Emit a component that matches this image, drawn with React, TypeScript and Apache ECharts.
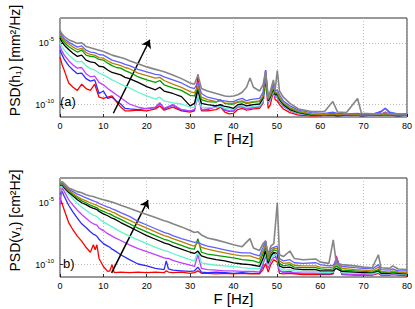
import React, { useEffect, useRef } from 'react';
import * as echarts from 'echarts';

// ---------- Panel (a): PSD(h1), values are log10 of PSD ----------
const freqA = [0, 0.5, 1,
  2, 3, 4, 5, 6, 7, 8, 9, 10, 11, 12, 13, 14, 15, 16,
  18, 20, 22, 23, 24, 26, 28, 30, 31,
  31.8, 32.6, 34, 36, 37, 38, 39, 40, 41, 42, 43,
  43.8, 44.6, 46, 46.8, 47.4, 48, 48.5, 49.2, 49.6, 50.1, 50.6, 51.5,
  53, 55, 58, 61, 62.9, 64, 66, 68.6, 69.5,
  72, 74, 75, 76, 78, 80];

const a_red = [-6.15, -6.8, -7.25,
  -8.25, -8.6, -8.85, -8.35, -8.7, -8.85, -8.35, -9.4, -9.5, -9.4, -9.3, -9.75, -10.2, -10.5, -10.5,
  -10.45, -10.5, -10.35, -10.1, -10.45, -10.2, -10.5, -10.6, -10.5,
  -7.55, -10.5, -10.5, -10.4, -10.2, -10.6, -10.75, -10.7, -10.4, -10.3, -10.45,
  -10.4, -10.35, -10.3, -9.9, -8.0, -10.3, -10.0, -8.9, -9.6, -9.7, -10.0, -10.35,
  -10.65, -10.85, -10.9, -10.9, -10.85, -10.9, -10.9, -10.85, -10.9,
  -10.9, -10.8, -10.6, -10.8, -10.9, -10.9];
const a_blue = [-5.6, -6.0, -6.35,
  -6.85, -7.2, -7.5, -7.45, -7.9, -8.1, -8.0, -9.1, -8.9, -9.5, -9.4, -9.7, -9.95, -10.3, -10.35,
  -10.4, -10.3, -10.25, -9.9, -10.35, -10.05, -10.45, -10.5, -10.45,
  -8.5, -10.4, -10.4, -10.1, -10.05, -10.45, -10.55, -10.5, -10.15, -10.1, -10.3,
  -10.25, -10.25, -10.15, -9.6, -7.2, -9.7, -9.5, -8.6, -9.3, -9.4, -9.75, -10.1,
  -10.45, -10.7, -10.8, -10.8, -10.7, -10.8, -10.8, -10.75, -10.8,
  -10.8, -10.55, -10.3, -10.65, -10.8, -10.85];
const a_magenta = [-5.3, -5.7, -6.0,
  -6.45, -6.8, -7.05, -7.0, -7.5, -7.75, -7.7, -8.2, -8.4, -8.7, -8.95, -9.2, -9.45, -9.7, -9.95,
  -10.2, -10.35, -10.2, -9.85, -10.3, -10.0, -10.4, -10.5, -10.4,
  -9.4, -10.4, -10.35, -10.2, -10.0, -10.4, -10.5, -10.55, -10.2, -10.2, -10.35,
  -10.3, -10.25, -10.2, -9.8, -8.3, -9.9, -9.6, -8.9, -9.4, -9.35, -9.8, -10.15,
  -10.5, -10.75, -10.85, -10.9, -10.85, -10.9, -10.9, -10.85, -10.9,
  -10.9, -10.8, -10.65, -10.85, -10.9, -10.9];
const a_cyan = [-5.0, -5.35, -5.6,
  -6.0, -6.3, -6.55, -6.5, -6.85, -7.1, -7.2, -7.45, -7.6, -7.8, -8.0, -8.15, -8.35, -8.5, -8.65,
  -9.0, -9.3, -9.55, -9.4, -9.7, -9.85, -9.95, -10.2, -10.25,
  -9.3, -10.2, -10.25, -10.2, -10.15, -10.3, -10.35, -10.4, -10.1, -10.1, -10.25,
  -10.2, -10.15, -10.1, -9.7, -8.2, -9.8, -9.5, -8.8, -9.3, -9.3, -9.7, -10.05,
  -10.45, -10.7, -10.85, -10.9, -10.85, -10.9, -10.9, -10.85, -10.9,
  -10.9, -10.85, -10.8, -10.85, -10.9, -10.9];
const a_black = [-4.6, -4.95, -5.2,
  -5.55, -5.85, -6.1, -6.0, -6.4, -6.55, -6.6, -6.9, -6.95, -7.2, -7.4, -7.5, -7.6, -7.8, -7.9,
  -8.2, -8.55, -8.8, -8.6, -8.9, -9.1, -9.35, -10.1, -9.9,
  -8.8, -9.9, -10.0, -10.1, -10.0, -10.15, -10.2, -10.3, -10.0, -9.95, -10.1,
  -10.05, -10.0, -9.95, -9.5, -8.0, -9.7, -9.4, -8.7, -9.2, -9.2, -9.6, -10.0,
  -10.4, -10.65, -10.85, -10.85, -10.85, -10.9, -10.85, -10.85, -10.9,
  -10.85, -10.85, -10.8, -10.85, -10.9, -10.85];
const a_green = [-4.45, -4.75, -5.0,
  -5.3, -5.55, -5.75, -5.6, -6.0, -6.1, -6.15, -6.35, -6.4, -6.65, -6.85, -7.0, -7.05, -7.25, -7.4,
  -7.75, -8.0, -8.2, -8.05, -8.4, -8.65, -8.85, -9.25, -9.3,
  -8.6, -9.6, -9.75, -9.8, -9.6, -9.9, -9.95, -9.95, -9.8, -9.75, -9.9,
  -9.85, -9.8, -9.75, -9.4, -7.9, -9.6, -9.3, -8.6, -9.1, -9.1, -9.5, -9.9,
  -10.3, -10.6, -10.8, -10.85, -10.8, -10.85, -10.8, -10.85, -10.85,
  -10.85, -10.8, -10.8, -10.85, -10.8, -10.85];
const a_orange = [-4.3, -4.6, -4.85,
  -5.1, -5.35, -5.55, -5.45, -5.8, -5.95, -6.0, -6.2, -6.25, -6.45, -6.65, -6.75, -6.85, -7.0, -7.1,
  -7.45, -7.65, -7.85, -7.8, -8.05, -8.35, -8.6, -8.95, -9.05,
  -8.5, -9.4, -9.6, -9.75, -9.7, -9.85, -9.9, -9.9, -9.75, -9.7, -9.85,
  -9.8, -9.75, -9.7, -9.3, -7.7, -9.5, -9.2, -8.5, -9.0, -9.0, -9.4, -9.85,
  -10.25, -10.55, -10.75, -10.8, -10.75, -10.8, -10.8, -10.8, -10.85,
  -10.8, -10.8, -10.7, -10.8, -10.85, -10.85];
const a_violet = [-4.15, -4.45, -4.7,
  -4.95, -5.15, -5.35, -5.25, -5.6, -5.75, -5.8, -5.95, -6.0, -6.2, -6.4, -6.5, -6.6, -6.75, -6.85,
  -7.15, -7.35, -7.55, -7.6, -7.75, -8.0, -8.25, -8.6, -8.7,
  -8.2, -9.1, -9.4, -9.55, -9.65, -9.7, -9.75, -9.75, -9.6, -9.5, -9.7,
  -9.6, -9.55, -9.5, -9.0, -7.25, -9.3, -9.0, -8.35, -8.9, -8.8, -9.2, -9.7,
  -10.1, -10.45, -10.65, -10.7, -10.6, -10.7, -10.75, -10.7, -10.75,
  -10.75, -10.6, -10.3, -10.6, -10.75, -10.8];
const a_gray = [-4.0, -4.3, -4.5,
  -4.75, -4.9, -5.05, -5.0, -5.3, -5.4, -5.5, -5.6, -5.7, -5.85, -6.0, -6.1, -6.2, -6.3, -6.45,
  -6.7, -6.95, -7.15, -7.25, -7.35, -7.6, -7.9, -8.25, -8.35,
  -7.6, -8.7, -8.9, -9.1, -9.2, -9.3, -9.35, -9.3, -9.2, -9.0, -8.6,
  -7.85, -8.6, -8.9, -8.4, -7.3, -9.5, -8.9, -8.0, -8.8, -7.25, -8.9, -9.4,
  -9.9, -10.35, -10.55, -10.55, -9.75, -10.6, -10.65, -9.5, -10.7,
  -10.75, -10.75, -10.7, -10.75, -10.75, -10.75];

// ---------- Panel (b): PSD(v1), values are log10 of PSD ----------
const freqB = [0, 0.5, 1,
  2, 3, 4, 5, 6, 7, 7.7, 8.1, 8.5, 9, 10, 11, 11.5, 12, 12.5,
  14, 16, 18, 20, 22, 24, 24.5, 25, 26, 28, 30, 31,
  31.8, 32.6, 34, 36, 38, 40, 42, 43.8, 44.6,
  46, 46.8, 47.4, 48, 48.6, 49.3, 50.1, 50.6, 51.5, 53,
  54, 56, 59, 60, 62, 63, 63.7, 65,
  68, 70, 72, 73.4, 74, 76, 76.7, 78, 80];

const b_red = [-4.6, -5.1, -5.6,
  -6.6, -7.2, -7.7, -8.1, -8.6, -9.0, -8.4, -8.8, -8.4, -9.5, -10.15, -10.55, -10.5, -10.0, -10.65,
  -10.6, -10.65, -10.6, -10.65, -10.6, -10.65, -10.5, -10.6, -10.65, -10.6, -10.7, -10.65,
  -10.5, -10.7, -10.7, -10.75, -10.7, -10.75, -10.7, -10.75, -10.75,
  -10.75, -10.4, -9.9, -10.6, -10.0, -9.6, -9.8, -10.7, -10.75, -10.7,
  -10.75, -10.8, -10.8, -10.8, -10.8, -10.75, -9.3, -10.8,
  -10.85, -10.85, -10.85, -10.7, -10.85, -10.85, -10.8, -10.85, -10.9];
const b_blue = [-4.3, -4.1, -4.5,
  -5.2, -5.75, -6.25, -6.7, -7.0, -7.35, -7.55, -7.6, -7.7, -7.95, -8.3, -8.5, -8.6, -8.75, -8.85,
  -9.2, -9.6, -9.95, -10.1, -10.3, -10.4, -9.7, -10.35, -10.45, -10.5, -10.55, -10.5,
  -10.2, -10.6, -10.65, -10.6, -10.65, -10.7, -10.65, -10.7, -10.7,
  -10.7, -10.1, -8.1, -10.2, -9.4, -9.0, -9.6, -10.5, -10.6, -10.55,
  -10.7, -10.7, -10.7, -10.75, -10.75, -10.7, -9.5, -10.75,
  -10.8, -10.8, -10.8, -10.6, -10.8, -10.8, -10.7, -10.8, -10.85];
const b_magenta = [-5.2, -3.75, -4.1,
  -4.75, -5.2, -5.6, -5.95, -6.25, -6.55, -6.7, -6.75, -6.8, -7.05, -7.25, -7.5, -7.6, -7.7, -7.8,
  -8.05, -8.4, -8.7, -8.95, -9.2, -9.45, -9.5, -9.5, -9.65, -9.85, -10.05, -10.15,
  -9.2, -10.3, -10.4, -10.45, -10.5, -10.5, -10.55, -10.55, -10.55,
  -10.6, -10.0, -9.3, -10.3, -9.7, -9.4, -9.5, -10.5, -10.6, -10.6,
  -10.65, -10.7, -10.7, -10.7, -10.7, -10.6, -9.35, -10.75,
  -10.8, -10.8, -10.8, -10.65, -10.8, -10.8, -10.75, -10.8, -10.85];
const b_cyan = [-3.7, -3.65, -3.9,
  -4.3, -4.7, -5.05, -5.35, -5.6, -5.85, -6.0, -6.05, -6.1, -6.3, -6.55, -6.75, -6.85, -6.95, -7.05,
  -7.35, -7.7, -8.0, -8.3, -8.6, -8.85, -8.9, -8.95, -9.1, -9.35, -9.6, -9.7,
  -8.9, -9.85, -9.95, -10.05, -10.1, -10.15, -10.25, -10.3, -10.3,
  -10.35, -9.7, -9.1, -10.1, -9.5, -9.2, -9.3, -10.3, -10.45, -10.4,
  -10.5, -10.55, -10.55, -10.6, -10.65, -10.6, -9.9, -10.65,
  -10.7, -10.7, -10.75, -10.6, -10.75, -10.75, -10.7, -10.75, -10.8];
const b_black = [-3.6, -3.55, -3.8,
  -4.15, -4.45, -4.75, -5.0, -5.15, -5.35, -5.45, -5.5, -5.55, -5.7, -5.9, -6.05, -6.15, -6.25, -6.3,
  -6.6, -6.95, -7.3, -7.65, -7.95, -8.25, -8.3, -8.35, -8.5, -8.75, -9.0, -9.1,
  -8.9, -9.3, -9.45, -9.6, -9.7, -9.85, -9.95, -10.0, -10.05,
  -10.15, -9.5, -8.9, -9.9, -9.3, -9.0, -9.1, -10.1, -10.25, -10.2,
  -10.35, -10.4, -10.4, -10.5, -10.5, -10.5, -10.3, -10.55,
  -10.6, -10.65, -10.65, -10.5, -10.7, -10.7, -10.65, -10.7, -10.75];
const b_green = [-3.55, -3.5, -3.7,
  -4.05, -4.35, -4.6, -4.85, -5.0, -5.2, -5.3, -5.35, -5.4, -5.55, -5.7, -5.85, -5.9, -6.0, -6.1,
  -6.35, -6.7, -7.05, -7.35, -7.65, -7.95, -8.0, -8.05, -8.2, -8.45, -8.7, -8.75,
  -7.9, -9.0, -9.15, -9.25, -9.35, -9.45, -9.6, -9.65, -9.7,
  -9.85, -9.1, -8.6, -9.7, -9.1, -8.8, -8.9, -9.9, -10.1, -10.0,
  -10.2, -10.25, -10.25, -10.35, -10.4, -10.35, -10.1, -10.45,
  -10.5, -10.55, -10.6, -10.4, -10.6, -10.65, -10.6, -10.65, -10.7];
const b_orange = [-3.5, -3.45, -3.65,
  -4.0, -4.25, -4.5, -4.7, -4.85, -5.0, -5.1, -5.15, -5.2, -5.3, -5.45, -5.6, -5.65, -5.75, -5.8,
  -6.1, -6.4, -6.75, -7.05, -7.35, -7.65, -7.7, -7.75, -7.9, -8.15, -8.4, -8.5,
  -8.2, -8.6, -8.75, -8.9, -9.05, -9.2, -9.3, -9.3, -9.4,
  -9.55, -8.9, -8.4, -9.5, -8.9, -8.7, -8.7, -9.7, -9.9, -9.85,
  -10.05, -10.1, -10.1, -10.2, -10.25, -10.2, -9.9, -10.3,
  -10.4, -10.45, -10.5, -10.2, -10.55, -10.6, -10.5, -10.6, -10.65];
const b_violet = [-3.45, -3.4, -3.6,
  -3.9, -4.1, -4.3, -4.45, -4.6, -4.75, -4.85, -4.9, -4.95, -5.05, -5.2, -5.35, -5.4, -5.5, -5.55,
  -5.8, -6.1, -6.5, -6.8, -7.1, -7.4, -7.45, -7.5, -7.65, -7.9, -8.1, -8.2,
  -8.15, -8.35, -8.5, -8.65, -8.8, -8.95, -9.05, -9.05, -9.15,
  -9.3, -8.6, -8.05, -9.3, -8.7, -8.6, -8.5, -9.5, -9.7, -9.6,
  -9.85, -9.9, -9.85, -10.0, -10.1, -10.05, -9.7, -10.15,
  -10.25, -10.3, -10.35, -10.0, -10.4, -10.45, -10.35, -10.5, -10.5];
const b_gray = [-3.35, -3.3, -3.45,
  -3.8, -3.95, -4.1, -4.2, -4.35, -4.45, -4.5, -4.55, -4.6, -4.65, -4.75, -4.85, -4.9, -4.95, -5.0,
  -5.2, -5.45, -5.7, -5.95, -6.2, -6.45, -6.5, -6.55, -6.7, -6.95, -7.25, -7.4,
  -7.35, -7.6, -7.85, -8.0, -8.2, -8.4, -8.55, -7.9, -8.65,
  -8.85, -8.3, -8.1, -9.2, -8.5, -8.3, -5.0, -9.2, -9.35, -8.9,
  -9.5, -9.6, -9.55, -9.8, -9.9, -8.0, -9.9, -10.0,
  -10.1, -10.2, -10.25, -9.2, -10.25, -10.3, -10.1, -10.35, -10.4];

// arrows (frequency, log10 PSD): start -> end
const arrowA = [[12.3, -10.7], [20.7, -4.76]];
const arrowB = [[11.9, -10.67], [20.3, -4.79]];

const xTicks = [0, 10, 20, 30, 40, 50, 60, 70, 80];
const yTickExps = [-10, -5];

const colors = ['#ff0000', '#2b2bff', '#c040ff', '#60f5cc', '#000000', '#00a000', '#bb8000', '#6060ff', '#858585'];
const panelA = [a_red, a_blue, a_magenta, a_cyan, a_black, a_green, a_orange, a_violet, a_gray];
const panelB = [b_red, b_blue, b_magenta, b_cyan, b_black, b_green, b_orange, b_violet, b_gray];

const FONT = '"Liberation Sans", Arial, Helvetica, sans-serif';

export default function App() {
  const ref = useRef<HTMLDivElement>(null);
  useEffect(() => {
    if (!ref.current) return;
    const chart = echarts.init(ref.current, null, { renderer: 'svg' });

    const xAxisBase = (gridIndex: number) => ({
      type: 'value', gridIndex, min: xTicks[0], max: xTicks[xTicks.length - 1], interval: 10,
      axisLine: { show: false },
      axisTick: { show: true, inside: true, length: 3, lineStyle: { color: '#000', width: 0.8 } },
      axisLabel: { color: '#000', fontSize: 9, fontFamily: FONT, margin: 4 },
      splitLine: { show: true, lineStyle: { color: '#b0b0b0', width: 0.8, type: [1, 2] } },
      name: 'F [Hz]', nameLocation: 'middle', nameGap: 14,
      nameTextStyle: { color: '#000', fontSize: 15, fontFamily: FONT },
    });
    const yAxisBase = (gridIndex: number, name: string) => ({
      type: 'value', gridIndex, min: -11, max: -3, interval: 1,
      axisLine: { show: false },
      axisTick: { show: true, inside: true, length: 3, customValues: yTickExps, lineStyle: { color: '#000', width: 0.8 } },
      axisLabel: {
        customValues: yTickExps, margin: 6,
        formatter: (v: number) => `{b|10}{s|${v}}`,
        rich: {
          b: { fontSize: 9, fontFamily: FONT, color: '#000', lineHeight: 14 },
          s: { fontSize: 6, fontFamily: FONT, color: '#000', lineHeight: 8, verticalAlign: 'top' },
        },
      },
      splitLine: { show: true, lineStyle: { color: '#b0b0b0', width: 0.8, type: [1, 2] } },
      name, nameLocation: 'middle', nameGap: 38, nameRotate: 90,
      nameTextStyle: { color: '#000', fontSize: 14, fontFamily: FONT, padding: [0, 0, 0, 14] },
    });

    const mkSeries = (arrs: number[][], freqs: number[], idx: number) =>
      arrs.map((arr, k) => ({
        type: 'line', xAxisIndex: idx, yAxisIndex: idx,
        data: freqs.map((f, i) => [f, arr[i]]),
        showSymbol: false, symbol: 'none', silent: true, clip: true,
        lineStyle: { color: colors[k], width: k === 8 ? 1.6 : 1.3 },
        itemStyle: { color: colors[k] },
        z: 2 + k,
      }));

    const arrowSeries = (arrow: number[][], idx: number) => ({
      type: 'line', xAxisIndex: idx, yAxisIndex: idx, data: [], silent: true, z: 20,
      markLine: {
        silent: true, animation: false,
        symbol: ['none', 'arrow'], symbolSize: 8,
        label: { show: false },
        lineStyle: { color: '#000', width: 1.5, type: 'solid' },
        data: [[{ coord: arrow[0] }, { coord: arrow[1] }]],
      },
    });

    chart.setOption({
      animation: false,
      backgroundColor: '#fff',
      grid: [
        { left: 58, top: 18, width: 349, height: 99, show: true, borderColor: '#333', borderWidth: 1, backgroundColor: 'transparent' },
        { left: 58, top: 178, width: 349, height: 99, show: true, borderColor: '#333', borderWidth: 1, backgroundColor: 'transparent' },
      ],
      xAxis: [xAxisBase(0), xAxisBase(1)],
      yAxis: [yAxisBase(0, 'PSD(h₁) [mm²/Hz]'), yAxisBase(1, 'PSD(v₁) [cm²Hz]')],
      series: [
        ...mkSeries(panelA, freqA, 0),
        ...mkSeries(panelB, freqB, 1),
        arrowSeries(arrowA, 0),
        arrowSeries(arrowB, 1),
      ],
      graphic: [
        { type: 'text', left: 60, top: 95, z: 30, style: { text: '(a)', fontSize: 13, fontFamily: FONT, fill: '#000' } },
        { type: 'text', left: 63, top: 257, z: 30, style: { text: 'b)', fontSize: 13, fontFamily: FONT, fill: '#000' } },
      ],
    });
    return () => chart.dispose();
  }, []);
  return <div ref={ref} style={{ position: 'absolute', left: 0, top: 0, width: 415, height: 309 }} />;
}
